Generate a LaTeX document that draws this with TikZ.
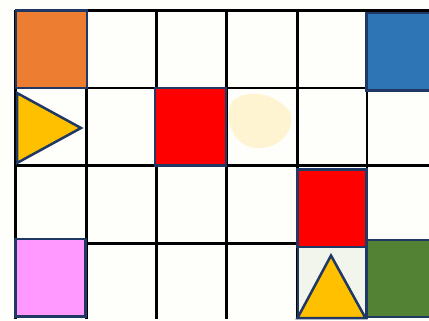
\documentclass[tikz,border=0pt]{standalone}
\usepackage{tikz}
\usetikzlibrary{positioning}
\usepackage{xcolor}
\definecolor{navyline}{RGB}{31,56,100}
\definecolor{paper}{RGB}{254,254,250}
\definecolor{tileorange}{RGB}{237,125,49}
\definecolor{tileblue}{RGB}{46,117,182}
\definecolor{tilered}{RGB}{255,0,0}
\definecolor{tilepink}{RGB}{255,153,255}
\definecolor{tilegreen}{RGB}{84,130,53}
\definecolor{tileyellow}{RGB}{255,192,0}

\begin{document}
\begin{tikzpicture}[x=1pt, y=-1pt, every node/.style={rectangle,draw=navyline,line width=2.5pt,inner sep=0pt,minimum width=71pt,minimum height=77.5pt}]
  \useasboundingbox (0,0) rectangle (429,321);
  \clip (0,0) rectangle (429,321);
  \fill[paper] (0,0) rectangle (429,321);

  % faint smudges
  \fill[tileyellow, opacity=0.16] (232,102) .. controls (245,88) and (275,92) .. (290,112)
    .. controls (296,130) and (280,150) .. (255,148) .. controls (235,146) and (222,120) .. (232,102);
  \fill[tilegreen, opacity=0.07] (297.5,247) rectangle (366.5,318);

  % grid
  \foreach \gx in {15.5,86.5,156.5,226.5,297.5,367}
    \draw[line width=2.5pt] (\gx,10.5) -- (\gx,319);
  \foreach \gy in {10.5,88,165.5,243.5}
    \draw[line width=2.5pt] (15.5,\gy) -- (429,\gy);

  % tiles
  \node[fill=tileorange] (orangesq) at (51.25,49.25) {};
  \node[fill=tileblue, minimum width=73pt] (bluesq) at (403,52) {};
  \node[fill=tilered] (redsqa) at (190.5,126.75) {};
  \node[fill=tilered, minimum width=69pt] (redsqb) at (332,208.25) {};
  \node[fill=tilepink, minimum width=70pt] (pinksq) at (50.5,277.75) {};
  \node[fill=tilegreen, minimum width=73pt, minimum height=77pt] (greensq) at (403,278.5) {};

  \draw[navyline, line width=2pt] (297.5,247) rectangle (366.5,318);

  % triangles
  \draw[navyline, line width=2.5pt, fill=tileyellow, line join=miter] (17,93) -- (81,128) -- (17,163) -- cycle;
  \draw[navyline, line width=2.5pt, fill=tileyellow, line join=miter] (331,255.5) -- (365.5,318) -- (297.5,318) -- cycle;
\end{tikzpicture}
\end{document}
